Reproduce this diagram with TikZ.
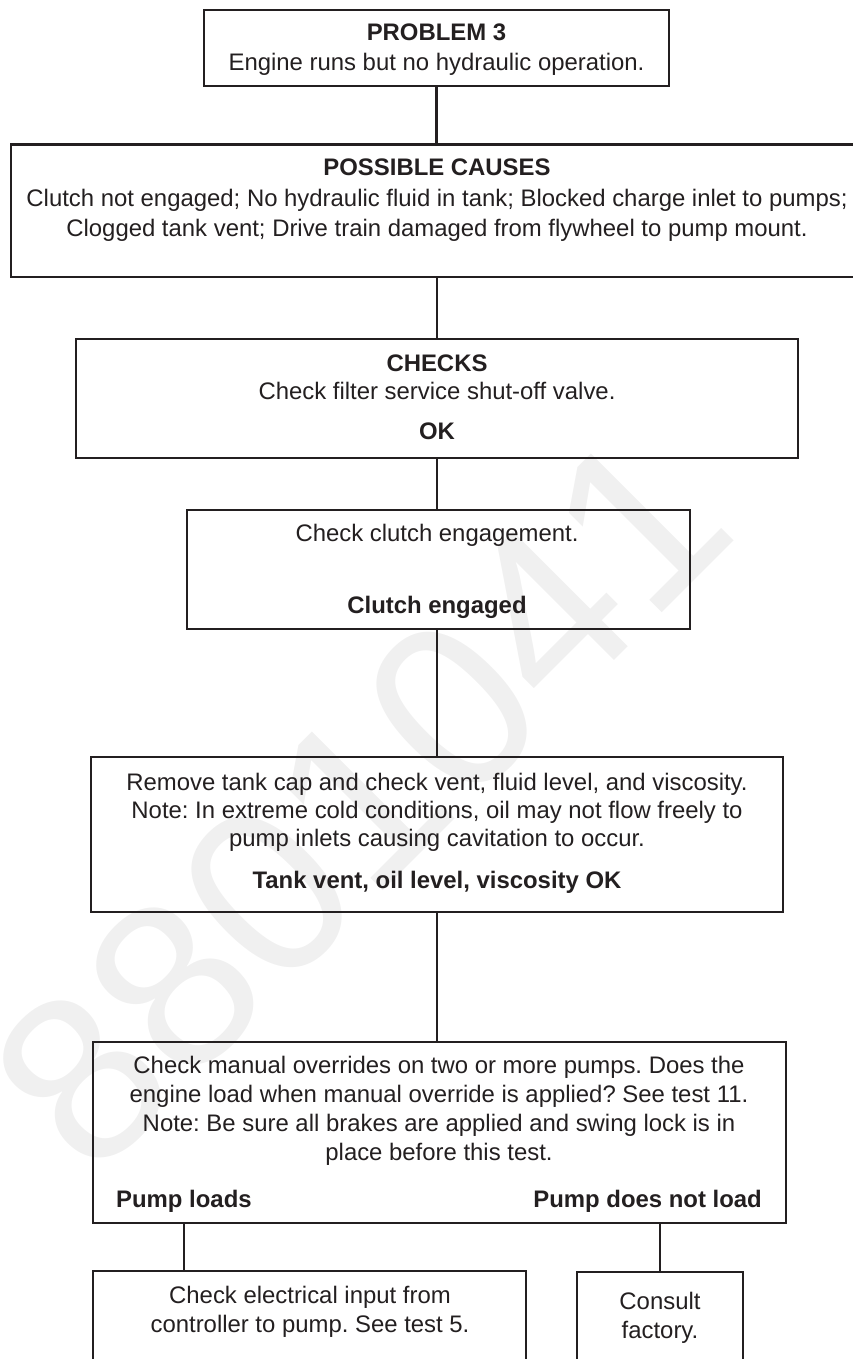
\documentclass[tikz,border=0pt]{standalone}
\usepackage{fontspec}
\setmainfont{Liberation Sans}
\definecolor{ink}{HTML}{231F20}
\definecolor{wmark}{HTML}{F0F0F0}
\frenchspacing

\begin{document}
\begin{tikzpicture}[
        x=1pt, y=-1pt,
        box/.style={draw=ink, line width=2.6pt, inner sep=0pt, outer sep=0pt},
        txt/.style={text=ink, anchor=base, inner sep=0pt,
            font=\fontsize{23.9}{28}\selectfont},
        hdr/.style={txt, font=\fontsize{23.9}{28}\selectfont\bfseries},
        link/.style={draw=ink, line width=2.4pt},
    ]
    \useasboundingbox (0,0) rectangle (853,1359);
    \clip (0,0) rectangle (853,1359);

    % watermark
    \node[text=wmark, rotate=45, inner sep=0pt,
        font=\fontsize{236}{236}\selectfont] (wm) at (360,800) {8801041};

    % boxes
    \node[box, minimum width=465pt, minimum height=76pt] (prob) at (436.5,48) {};
    \node[box, minimum width=852pt, minimum height=132.5pt] (causes) at (437,210.75) {};
    \node[box, minimum width=722pt, minimum height=119pt] (checks) at (437,398.5) {};
    \node[box, minimum width=503pt, minimum height=119pt] (clutch) at (438.5,569.5) {};
    \node[box, minimum width=692pt, minimum height=155pt] (tank) at (437,834.5) {};
    \node[box, minimum width=693pt, minimum height=181pt] (override) at (439.5,1132.5) {};
    \node[box, minimum width=433pt, minimum height=129pt] (electric) at (309.5,1335.5) {};
    \node[box, minimum width=166pt, minimum height=128pt] (consult) at (660,1336) {};

    % texts
    \node[hdr] (probA) at (436.5,41) {PROBLEM 3};
    \node[txt] (probB) at (436.5,71) {Engine runs but no hydraulic operation.};

    \node[hdr] (causesA) at (437,176) {POSSIBLE CAUSES};
    \node[txt] (causesB) at (437,207) {Clutch not engaged; No hydraulic fluid in tank; Blocked charge inlet to pumps;};
    \node[txt] (causesC) at (437,236) {Clogged tank vent; Drive train damaged from flywheel to pump mount.};

    \node[hdr] (checksA) at (437,371) {CHECKS};
    \node[txt] (checksB) at (437,399) {Check filter service shut-off valve.};
    \node[hdr] (checksC) at (437,439) {OK};

    \node[txt] (clutchA) at (437,541) {Check clutch engagement.};
    \node[hdr] (clutchB) at (437,613) {Clutch engaged};

    \node[txt] (tankA) at (437,790) {Remove tank cap and check vent, fluid level, and viscosity.};
    \node[txt] (tankB) at (437,818) {Note: In extreme cold conditions, oil may not flow freely to};
    \node[txt] (tankC) at (437,846) {pump inlets causing cavitation to occur.};
    \node[hdr] (tankD) at (437,888) {Tank vent, oil level, viscosity OK};

    \node[txt] (overA) at (439,1073) {Check manual overrides on two or more pumps. Does the};
    \node[txt] (overB) at (439,1102) {engine load when manual override is applied? See test 11.};
    \node[txt] (overC) at (439,1131) {Note: Be sure all brakes are applied and swing lock is in};
    \node[txt] (overD) at (439,1160) {place before this test.};
    \node[hdr, anchor=base west] (loads) at (116,1207) {Pump loads};
    \node[hdr, anchor=base east] (noload) at (762,1207) {Pump does not load};

    \node[txt] (electricA) at (310,1303) {Check electrical input from};
    \node[txt] (electricB) at (310,1332) {controller to pump. See test 5.};

    \node[txt] (consultA) at (660,1309) {Consult};
    \node[txt] (consultB) at (660,1338) {factory.};

    % connectors
    \draw[link] (prob.south) -- (prob.south |- causes.north);
    \draw[link] (causes.south) -- (causes.south |- checks.north);
    \draw[link] (checks.south) -- (checks.south |- clutch.north);
    \draw[link] (clutch.south -| checks.south) -- (tank.north);
    \draw[link] (tank.south) -- (tank.south |- override.north);
    \draw[link] (override.south -| loads) -- (electric.north -| loads);
    \draw[link] (override.south -| consult) -- (consult.north);
\end{tikzpicture}
\end{document}
